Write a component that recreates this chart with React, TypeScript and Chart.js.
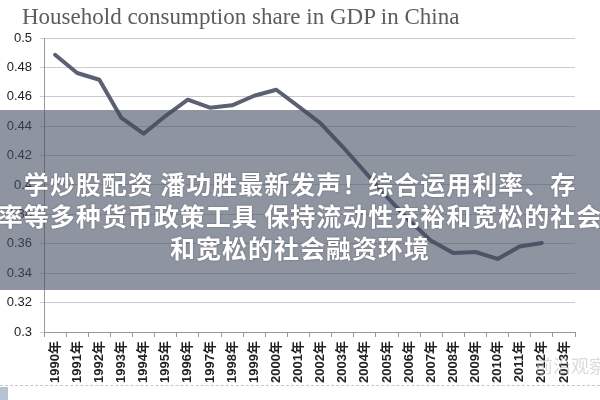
import React, { useEffect, useRef } from "react";
import { Chart, registerables } from "chart.js";

Chart.register(...registerables);

const years: string[] = [
  "1990年", "1991年", "1992年", "1993年", "1994年", "1995年", "1996年", "1997年",
  "1998年", "1999年", "2000年", "2001年", "2002年", "2003年", "2004年", "2005年",
  "2006年", "2007年", "2008年", "2009年", "2010年", "2011年", "2012年", "2013年",
];

const consumptionShare: (number | null)[] = [
  0.4886, 0.4762, 0.4716, 0.4456, 0.4349, 0.4471, 0.458, 0.4526,
  0.4542, 0.4607, 0.4648, 0.4535, 0.442, 0.426, 0.409, 0.392,
  0.376, 0.362, 0.3537, 0.3544, 0.3497, 0.3582, 0.3605, null,
];

const yMin = 0.3;
const yMax = 0.5;
const yStep = 0.02;

const chartTitle = "Household consumption share in GDP in China";
const overlayLines: string[] = [
  "学炒股配资 潘功胜最新发声！综合运用利率、存",
  "率等多种货币政策工具 保持流动性充裕和宽松的社会",
  "和宽松的社会融资环境",
];
const watermark = "前沿观察";

export default function App() {
  const canvasRef = useRef<HTMLCanvasElement | null>(null);

  useEffect(() => {
    document.body.style.margin = "0";
    const canvas = canvasRef.current;
    if (!canvas) return;
    const chart = new Chart(canvas, {
      type: "line",
      data: {
        labels: years,
        datasets: [
          {
            data: consumptionShare,
            borderColor: "#5b6072",
            borderWidth: 4,
            pointRadius: 0,
            tension: 0,
            borderJoinStyle: "round",
            borderCapStyle: "round",
            fill: false,
          },
        ],
      },
      options: {
        animation: false,
        responsive: false,
        maintainAspectRatio: false,
        layout: { padding: { left: 0, right: 25, top: 38, bottom: 0 } },
        plugins: {
          legend: { display: false },
          title: { display: false },
          tooltip: { enabled: false },
        },
        scales: {
          x: {
            offset: true,
            grid: {
              offset: true,
              drawOnChartArea: false,
              drawTicks: true,
              tickLength: 5,
              color: "#9a9a9a",
            },
            border: { display: true, color: "#9a9a9a", width: 1 },
            ticks: {
              autoSkip: false,
              minRotation: 90,
              maxRotation: 90,
              padding: 4,
              color: "#222",
              font: { family: "'Liberation Sans', 'Noto Sans CJK SC', sans-serif", size: 13, weight: "bold" },
            },
            afterFit: (scale: any) => {
              scale.height = 68;
            },
          },
          y: {
            min: yMin,
            max: yMax,
            grid: {
              color: "#cccccc",
              lineWidth: 1,
              drawTicks: true,
              tickLength: 4,
            },
            border: { display: true, color: "#9a9a9a", width: 1 },
            ticks: {
              stepSize: yStep,
              padding: 8,
              color: "#222",
              font: { family: "'Liberation Sans', sans-serif", size: 13 },
              callback: (v: any) => String(Number(Number(v).toFixed(2))),
            },
            afterFit: (scale: any) => {
              scale.width = 44;
            },
          },
        },
      },
    });
    return () => chart.destroy();
  }, []);

  return (
    <div style={{ position: "relative", width: 600, height: 400, background: "#fff", overflow: "hidden" }}>
      <canvas ref={canvasRef} width={600} height={400} style={{ position: "absolute", left: 0, top: 0 }} />
      <div
        style={{
          position: "absolute",
          left: 22,
          top: 2,
          fontFamily: "'Liberation Serif', serif",
          fontSize: 23,
          color: "#5c5c5c",
          whiteSpace: "nowrap",
          lineHeight: "30px",
        }}
      >
        {chartTitle}
      </div>
      <div
        style={{
          position: "absolute",
          left: 0,
          top: 110,
          width: 600,
          height: 180,
          background: "rgba(66,76,96,0.6)",
        }}
      />
      <div
        style={{
          position: "absolute",
          left: -50,
          width: 700,
          top: 167,
          textAlign: "center",
          fontFamily: "'Noto Sans CJK SC', sans-serif",
          fontWeight: "bold",
          fontSize: 25,
          letterSpacing: 1,
          lineHeight: "32px",
          color: "#ffffff",
          whiteSpace: "nowrap",
          textShadow: "0 0 2px rgba(0,0,0,0.35)",
        }}
      >
        {overlayLines.map((l, i) => (
          <div key={i}>{l}</div>
        ))}
      </div>
      <div
        style={{
          position: "absolute",
          left: 0,
          top: 385,
          width: 600,
          height: 0,
          borderTop: "1px dashed #c8c8c8",
        }}
      />
      <div
        style={{
          position: "absolute",
          left: 0,
          top: 387,
          width: 8,
          height: 13,
          background: "#b5c3d3",
        }}
      />
      <div
        style={{
          position: "absolute",
          left: 535,
          top: 352,
          fontFamily: "'Noto Sans CJK SC', sans-serif",
          fontSize: 18,
          color: "rgba(190,190,190,0.55)",
          whiteSpace: "nowrap",
        }}
      >
        {watermark}
      </div>
    </div>
  );
}
